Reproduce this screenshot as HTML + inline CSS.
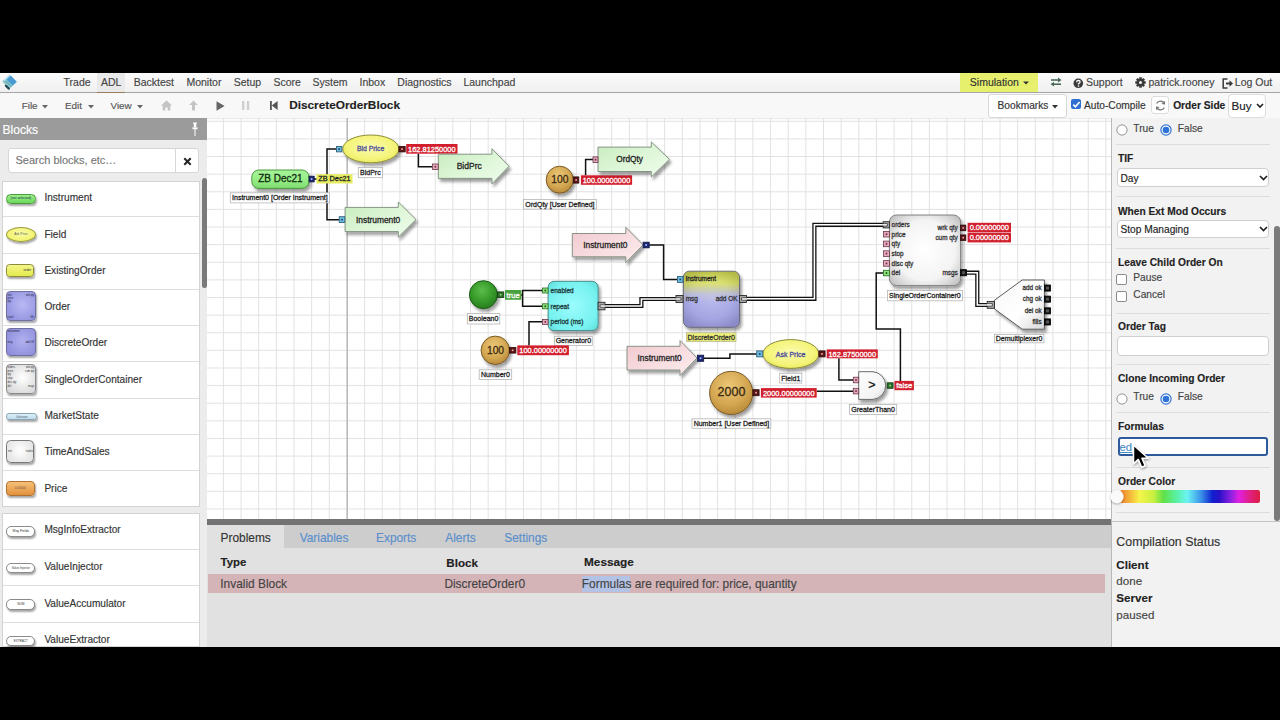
<!DOCTYPE html>
<html><head><meta charset="utf-8"><title>ADL</title><style>
html,body{margin:0;padding:0;}
body{width:1280px;height:720px;overflow:hidden;background:#000;position:relative;font-family:"Liberation Sans",sans-serif;}
.t{position:absolute;line-height:1;white-space:nowrap;-webkit-text-stroke:0.15px currentColor;}
.r{position:absolute;}
.ic{box-sizing:border-box;overflow:hidden;white-space:nowrap;}
</style></head><body>
<div class="r" style="left:0.00px;top:73.00px;width:1280.00px;height:19.20px;background:linear-gradient(#fbfbfb,#f6f6f6 40%,#f0f0f0);"></div>
<div class="r" style="left:0.00px;top:92.00px;width:1280.00px;height:1.30px;background:#a6a6a6;"></div>
<div class="r" style="left:97.00px;top:73.00px;width:27.70px;height:19.00px;background:#e9e9e9;"></div>
<div class="r" style="left:97.00px;top:91.50px;width:27.70px;height:1.50px;background:#9a7a58;"></div>
<div class="r" style="left:960.40px;top:73.00px;width:77.30px;height:19.00px;background:#e6f06c;"></div>
<div class="r" style="left:0.00px;top:93.00px;width:1280.00px;height:25.00px;background:#f8f8f8;"></div>
<svg class="r" style="left:0;top:73px" width="20" height="19" viewBox="0 73 20 19">
<g transform="translate(9.5,74.4) rotate(45)">
<rect x="0" y="0" width="10.3" height="9.4" fill="#acdde6"/>
<rect x="1.6" y="0" width="8.7" height="5.9" fill="#4a9bd2"/>
<rect x="1.6" y="6.4" width="8.7" height="2.0" fill="#6db2b5"/>
<rect x="0" y="8.4" width="4.6" height="1.8" fill="#86c4c4"/>
<rect x="4.4" y="9.3" width="6.2" height="2.3" rx="1" fill="#1f4d55"/>
</g></svg>
<div class="t" style="left:63.60px;top:77.01px;font-size:10.5px;color:#444;">Trade</div>
<div class="t" style="left:101.00px;top:77.01px;font-size:10.5px;color:#444;">ADL</div>
<div class="t" style="left:133.70px;top:77.01px;font-size:10.5px;color:#444;">Backtest</div>
<div class="t" style="left:186.40px;top:77.01px;font-size:10.5px;color:#444;">Monitor</div>
<div class="t" style="left:233.70px;top:77.01px;font-size:10.5px;color:#444;">Setup</div>
<div class="t" style="left:273.50px;top:77.01px;font-size:10.5px;color:#444;">Score</div>
<div class="t" style="left:312.60px;top:77.01px;font-size:10.5px;color:#444;">System</div>
<div class="t" style="left:359.50px;top:77.01px;font-size:10.5px;color:#444;">Inbox</div>
<div class="t" style="left:397.30px;top:77.01px;font-size:10.5px;color:#444;">Diagnostics</div>
<div class="t" style="left:463.40px;top:77.01px;font-size:10.5px;color:#444;">Launchpad</div>
<div class="t" style="left:969.80px;top:77.01px;font-size:10.5px;color:#333;">Simulation</div>
<svg class="r" style="left:1022px;top:80px" width="8" height="6"><polygon points="1,1.5 7,1.5 4,4.5" fill="#333"/></svg>
<svg class="r" style="left:1049px;top:76px" width="14" height="12" viewBox="0 0 14 12">
<path d="M2 4 H10" stroke="#4a6a58" stroke-width="1.6"/><polygon points="9,1.6 12.5,4 9,6.4" fill="#4a6a58"/>
<path d="M4 8.2 H12" stroke="#4a6a58" stroke-width="1.6"/><polygon points="5,5.8 1.5,8.2 5,10.6" fill="#4a6a58"/>
</svg>
<svg class="r" style="left:1073px;top:77.5px" width="11" height="11" viewBox="0 0 11 11">
<circle cx="5.3" cy="5.3" r="4.8" fill="#3a3a3a"/>
<path d="M3.6 4.2 Q3.7 2.4 5.4 2.4 Q7.1 2.5 7.1 3.9 Q7.0 5 5.5 5.6 L5.5 6.6" stroke="#fff" stroke-width="1.3" fill="none"/>
<rect x="4.8" y="7.4" width="1.4" height="1.3" fill="#fff"/></svg>
<div class="t" style="left:1086.00px;top:77.01px;font-size:10.5px;color:#444;">Support</div>
<svg class="r" style="left:1135px;top:77px" width="11" height="11" viewBox="-5.5 -5.5 11 11">
<g fill="#3a3a3a"><rect x="-1.3" y="-5.2" width="2.6" height="3" transform="rotate(0)"/><rect x="-1.3" y="-5.2" width="2.6" height="3" transform="rotate(45)"/><rect x="-1.3" y="-5.2" width="2.6" height="3" transform="rotate(90)"/><rect x="-1.3" y="-5.2" width="2.6" height="3" transform="rotate(135)"/><rect x="-1.3" y="-5.2" width="2.6" height="3" transform="rotate(180)"/><rect x="-1.3" y="-5.2" width="2.6" height="3" transform="rotate(225)"/><rect x="-1.3" y="-5.2" width="2.6" height="3" transform="rotate(270)"/><rect x="-1.3" y="-5.2" width="2.6" height="3" transform="rotate(315)"/><circle r="3.6"/></g><circle r="1.5" fill="#f4f4f4"/></svg>
<div class="t" style="left:1148.50px;top:77.01px;font-size:10.5px;color:#444;">patrick.rooney</div>
<svg class="r" style="left:1221.5px;top:77.5px" width="12" height="11" viewBox="0 0 12 11">
<path d="M5.5 1 H1.2 V10 H5.5" stroke="#3a3a3a" stroke-width="1.5" fill="none"/>
<path d="M4 5.5 H8" stroke="#3a3a3a" stroke-width="2"/><polygon points="7.5,2.3 11,5.5 7.5,8.7" fill="#3a3a3a"/></svg>
<div class="t" style="left:1234.80px;top:77.01px;font-size:10.5px;color:#444;">Log Out</div>
<div class="t" style="left:21.70px;top:100.72px;font-size:9.9px;color:#555;">File</div>
<div class="t" style="left:65.00px;top:100.72px;font-size:9.9px;color:#555;">Edit</div>
<div class="t" style="left:110.50px;top:100.72px;font-size:9.9px;color:#555;">View</div>
<svg class="r" style="left:42px;top:104.5px" width="7" height="4"><polygon points="0,0 6,0 3,3.4" fill="#666"/></svg>
<svg class="r" style="left:87.8px;top:104.5px" width="7" height="4"><polygon points="0,0 6,0 3,3.4" fill="#666"/></svg>
<svg class="r" style="left:136.7px;top:104.5px" width="7" height="4"><polygon points="0,0 6,0 3,3.4" fill="#666"/></svg>
<svg class="r" style="left:160.5px;top:100px" width="11" height="11" viewBox="0 0 11 11">
<polygon points="5.5,0.5 11,5.6 9.3,5.6 9.3,10.5 6.7,10.5 6.7,7.5 4.3,7.5 4.3,10.5 1.7,10.5 1.7,5.6 0,5.6" fill="#c4c4c4"/></svg>
<svg class="r" style="left:188.5px;top:100px" width="9" height="11" viewBox="0 0 9 11">
<polygon points="4.5,0.5 8.8,5 6,5 6,10.5 3,10.5 3,5 0.2,5" fill="#c4c4c4"/></svg>
<svg class="r" style="left:215.5px;top:100.5px" width="9" height="10" viewBox="0 0 9 10">
<polygon points="0.5,0.3 8.6,5 0.5,9.7" fill="#666"/></svg>
<svg class="r" style="left:242px;top:101px" width="8" height="9" viewBox="0 0 8 9">
<rect x="0" y="0" width="2.4" height="9" fill="#cfcfcf"/><rect x="4.8" y="0" width="2.4" height="9" fill="#cfcfcf"/></svg>
<svg class="r" style="left:269.5px;top:101px" width="8" height="9" viewBox="0 0 8 9">
<rect x="0" y="0" width="1.8" height="9" fill="#555"/><polygon points="7.6,0 1.8,4.5 7.6,9" fill="#555"/></svg>
<div class="t" style="left:289.20px;top:100.01px;font-size:11.8px;color:#222;font-weight:700;">DiscreteOrderBlock</div>
<div class="r" style="left:988.00px;top:93.70px;width:79.30px;height:24.00px;background:#fff;border:1px solid #d8d8d8;border-radius:3px;box-sizing:border-box;"></div>
<div class="t" style="left:997.50px;top:100.67px;font-size:10.2px;color:#333;">Bookmarks</div>
<svg class="r" style="left:1051.5px;top:104.5px" width="7" height="4"><polygon points="0,0 6,0 3,3.4" fill="#333"/></svg>
<div class="r" style="left:1070.50px;top:98.80px;width:10.30px;height:10.30px;background:#2f6fd1;border-radius:2px;"></div>
<svg class="r" style="left:1070.5px;top:98.8px" width="11" height="11" viewBox="0 0 11 11"><path d="M2.3 5.6 L4.4 7.8 L8.6 3" stroke="#fff" stroke-width="1.6" fill="none"/></svg>
<div class="t" style="left:1084.00px;top:100.87px;font-size:10.2px;color:#333;">Auto-Compile</div>
<div class="r" style="left:1150.50px;top:95.80px;width:18.50px;height:18.50px;background:#fff;border:1px solid #ddd;border-radius:3px;box-sizing:border-box;"></div>
<svg class="r" style="left:1153.5px;top:98.8px" width="13" height="13" viewBox="0 0 13 13">
<path d="M10.5 5 A4.3 4.3 0 0 0 2.6 4.4" stroke="#777" stroke-width="1.2" fill="none"/><polygon points="10.9,1.8 11,5.6 7.4,5" fill="#777"/>
<path d="M2.5 8 A4.3 4.3 0 0 0 10.4 8.6" stroke="#777" stroke-width="1.2" fill="none"/><polygon points="2.1,11.2 2,7.4 5.6,8" fill="#777"/></svg>
<div class="t" style="left:1173.20px;top:100.87px;font-size:10.2px;color:#222;font-weight:700;">Order Side</div>
<div class="r" style="left:1227.80px;top:94.00px;width:38.70px;height:24.20px;background:#fff;border:1px solid #ddd;border-radius:4px;box-sizing:border-box;"></div>
<div class="t" style="left:1231.50px;top:100.38px;font-size:11.6px;color:#222;">Buy</div>
<svg class="r" style="left:1256px;top:103px" width="8" height="6"><path d="M1 1 L4 4 L7 1" stroke="#222" stroke-width="1.6" fill="none"/></svg>
<div class="r" style="left:0.00px;top:118.00px;width:207.00px;height:529.00px;background:#ececec;"></div>
<div class="r" style="left:0.00px;top:118.00px;width:207.00px;height:22.00px;background:#9b9b9b;"></div>
<div class="t" style="left:2.50px;top:124.16px;font-size:12.1px;color:#fff;">Blocks</div>
<svg class="r" style="left:191px;top:121.5px" width="8" height="15" viewBox="0 0 8 15">
<rect x="2.2" y="0.5" width="3.6" height="1.4" fill="#fff"/><rect x="2.8" y="1.5" width="2.4" height="4" fill="#fff"/>
<polygon points="1,5.5 7,5.5 6.2,7.2 1.8,7.2" fill="#fff"/><rect x="3.5" y="7" width="1" height="7" fill="#fff"/></svg>
<div class="r" style="left:8.25px;top:148.30px;width:191.00px;height:25.00px;background:#fff;border:1px solid #d6d6d6;border-radius:3px;box-sizing:border-box;"></div>
<div class="r" style="left:174.50px;top:148.30px;width:1.00px;height:25.00px;background:#d6d6d6;"></div>
<div class="t" style="left:15.50px;top:154.99px;font-size:11px;color:#777;">Search blocks, etc…</div>
<svg class="r" style="left:182.8px;top:157px" width="9" height="9" viewBox="0 0 9 9">
<path d="M1.3 1.3 L7.7 7.7 M7.7 1.3 L1.3 7.7" stroke="#222" stroke-width="2"/></svg>
<div class="r" style="left:1.50px;top:180.60px;width:198.20px;height:326.70px;background:#fff;border:1px solid #d4d4d4;box-sizing:border-box;"></div>
<div class="r" style="left:2.50px;top:216.20px;width:196.20px;height:1.00px;background:#dedede;"></div>
<div class="r" style="left:2.50px;top:252.60px;width:196.20px;height:1.00px;background:#dedede;"></div>
<div class="r" style="left:2.50px;top:288.80px;width:196.20px;height:1.00px;background:#dedede;"></div>
<div class="r" style="left:2.50px;top:325.00px;width:196.20px;height:1.00px;background:#dedede;"></div>
<div class="r" style="left:2.50px;top:361.30px;width:196.20px;height:1.00px;background:#dedede;"></div>
<div class="r" style="left:2.50px;top:397.80px;width:196.20px;height:1.00px;background:#dedede;"></div>
<div class="r" style="left:2.50px;top:433.90px;width:196.20px;height:1.00px;background:#dedede;"></div>
<div class="r" style="left:2.50px;top:470.40px;width:196.20px;height:1.00px;background:#dedede;"></div>
<div class="t" style="left:44.40px;top:193.45px;font-size:10.1px;color:#333;">Instrument</div>
<div class="t" style="left:44.40px;top:229.55px;font-size:10.1px;color:#333;">Field</div>
<div class="t" style="left:44.40px;top:265.95px;font-size:10.1px;color:#333;">ExistingOrder</div>
<div class="t" style="left:44.40px;top:302.15px;font-size:10.1px;color:#333;">Order</div>
<div class="t" style="left:44.40px;top:338.35px;font-size:10.1px;color:#333;">DiscreteOrder</div>
<div class="t" style="left:44.40px;top:374.65px;font-size:10.1px;color:#333;">SingleOrderContainer</div>
<div class="t" style="left:44.40px;top:411.15px;font-size:10.1px;color:#333;">MarketState</div>
<div class="t" style="left:44.40px;top:447.25px;font-size:10.1px;color:#333;">TimeAndSales</div>
<div class="t" style="left:44.40px;top:483.75px;font-size:10.1px;color:#333;">Price</div>
<div class="r" style="left:1.50px;top:512.60px;width:198.20px;height:134.40px;background:#fff;border:1px solid #d4d4d4;box-sizing:border-box;"></div>
<div class="r" style="left:2.50px;top:548.70px;width:196.20px;height:1.00px;background:#dedede;"></div>
<div class="r" style="left:2.50px;top:585.30px;width:196.20px;height:1.00px;background:#dedede;"></div>
<div class="r" style="left:2.50px;top:621.70px;width:196.20px;height:1.00px;background:#dedede;"></div>
<div class="t" style="left:44.40px;top:525.45px;font-size:10.1px;color:#333;">MsgInfoExtractor</div>
<div class="t" style="left:44.40px;top:562.05px;font-size:10.1px;color:#333;">ValueInjector</div>
<div class="t" style="left:44.40px;top:598.65px;font-size:10.1px;color:#333;">ValueAccumulator</div>
<div class="t" style="left:44.40px;top:635.05px;font-size:10.1px;color:#333;">ValueExtractor</div>
<div class="r" style="left:201.50px;top:178.30px;width:5.00px;height:110.00px;background:#7a7a7a;border-radius:3px;"></div>
<div class="r ic" style="left:6.2px;top:194px;width:29.4px;height:9.5px;background:linear-gradient(#9cf08c,#6cd85c);border:1px solid #4a9a3c;border-radius:4.5px;box-shadow:1px 2px 2px rgba(0,0,0,0.35);font-size:3.4px;color:#234;text-align:center;line-height:7.5px;">(not selected)</div>
<div class="r ic" style="left:6.2px;top:227px;width:29.4px;height:15px;background:radial-gradient(ellipse at 50% 40%,#fbfba8,#eeee58);border:1px solid #9a9a3a;border-radius:15px / 7.5px;box-shadow:1px 2px 2px rgba(0,0,0,0.35);font-size:3.2px;color:#555;text-align:center;line-height:13px;">Ask Price</div>
<div class="r ic" style="left:6.2px;top:263.5px;width:28.2px;height:13.5px;background:linear-gradient(#f4f68a,#e4ea4c);border:1px solid #8c8c3a;border-radius:3.5px;box-shadow:1px 2px 2px rgba(0,0,0,0.35);font-size:3.4px;color:#333;text-align:right;line-height:11.5px;;padding-right:2px;box-sizing:border-box;line-height:11px">order</div>
<div class="r ic" style="left:6.2px;top:291.2px;width:29.6px;height:29.6px;background:radial-gradient(circle at 55% 45%,#b8b8f4,#8c8cdc);border:1px solid #7070a0;border-radius:4px;box-shadow:1px 2px 2px rgba(0,0,0,0.35);font-size:3px;color:#333;text-align:center;line-height:27.6px;"></div>
<div class="r ic" style="left:6.2px;top:327.5px;width:29.6px;height:28.7px;background:radial-gradient(circle at 55% 45%,#b0b0f0,#8888d8);border:1px solid #7070a0;border-radius:4px;box-shadow:1px 2px 2px rgba(0,0,0,0.35);font-size:3px;color:#333;text-align:center;line-height:26.7px;"></div>
<div class="r ic" style="left:6.2px;top:363.5px;width:29.6px;height:30px;background:radial-gradient(circle at 55% 45%,#ffffff,#d0d0d0);border:1px solid #8a8a8a;border-radius:4px;box-shadow:1px 2px 2px rgba(0,0,0,0.35);font-size:3px;color:#333;text-align:center;line-height:28px;"></div>
<div class="r ic" style="left:6.2px;top:412.9px;width:31.3px;height:7px;background:linear-gradient(#def0f8,#bcdcec);border:1px solid #8aa6b4;border-radius:3px;box-shadow:1px 2px 2px rgba(0,0,0,0.35);font-size:2.8px;color:#567;text-align:center;line-height:5px;;line-height:6px">Unknown</div>
<div class="r ic" style="left:6.2px;top:439.6px;width:28.2px;height:23px;background:radial-gradient(circle at 50% 45%,#ffffff,#dedede);border:1px solid #7a7a7a;border-radius:4.5px;box-shadow:1px 2px 2px rgba(0,0,0,0.35);font-size:3px;color:#333;text-align:center;line-height:21px;"></div>
<div class="r ic" style="left:6.2px;top:481.2px;width:28.8px;height:14.6px;background:linear-gradient(#f4c078,#e2923e);border:1px solid #b07030;border-radius:4px;box-shadow:1px 2px 2px rgba(0,0,0,0.35);font-size:3.6px;color:#754;text-align:center;line-height:12.6px;">0.0000</div>
<div class="r ic" style="left:6.2px;top:526px;width:29.2px;height:10.5px;background:#fff;border:1px solid #8a8a8a;border-radius:5px;box-shadow:1px 2px 2px rgba(0,0,0,0.35);font-size:3.4px;color:#333;text-align:center;line-height:8.5px;;line-height:9px">Msg Fields</div>
<div class="r ic" style="left:6.2px;top:562.5px;width:29.2px;height:10.5px;background:#fff;border:1px solid #8a8a8a;border-radius:5px;box-shadow:1px 2px 2px rgba(0,0,0,0.35);font-size:3.0px;color:#333;text-align:center;line-height:8.5px;;line-height:9px">Value Injector</div>
<div class="r ic" style="left:6.2px;top:599px;width:29.2px;height:10.5px;background:#fff;border:1px solid #8a8a8a;border-radius:5px;box-shadow:1px 2px 2px rgba(0,0,0,0.35);font-size:3.2px;color:#333;text-align:center;line-height:8.5px;;line-height:9px">SUM</div>
<div class="r ic" style="left:6.2px;top:635.5px;width:29.2px;height:10.5px;background:#fff;border:1px solid #8a8a8a;border-radius:5px;box-shadow:1px 2px 2px rgba(0,0,0,0.35);font-size:3.0px;color:#333;text-align:center;line-height:8.5px;;line-height:9px">EXTRACT</div>
<svg class="r" style="left:0;top:0" width="40" height="647" viewBox="0 0 40 647" font-family="Liberation Sans, sans-serif"><text x="7.6" y="295.6" font-size="2.6" fill="#223" text-anchor="start">inst</text><text x="7.6" y="298.8" font-size="2.6" fill="#223" text-anchor="start">price</text><text x="7.6" y="302" font-size="2.6" fill="#223" text-anchor="start">qty</text><text x="34.2" y="295.6" font-size="2.6" fill="#223" text-anchor="end">wrk qty</text><text x="7.6" y="318.3" font-size="2.6" fill="#223" text-anchor="start">cancl</text><text x="34.2" y="318.3" font-size="2.6" fill="#223" text-anchor="end">fills</text><text x="7.6" y="331.8" font-size="2.6" fill="#223" text-anchor="start">instrument</text><text x="7.6" y="342.8" font-size="2.6" fill="#223" text-anchor="start">msg</text><text x="34.2" y="342.8" font-size="2.6" fill="#223" text-anchor="end">add OK</text><text x="7.6" y="367.6" font-size="2.6" fill="#333" text-anchor="start">orders</text><text x="7.6" y="371.5" font-size="2.6" fill="#333" text-anchor="start">price</text><text x="7.6" y="375.40000000000003" font-size="2.6" fill="#333" text-anchor="start">qty</text><text x="7.6" y="379.3" font-size="2.6" fill="#333" text-anchor="start">stop</text><text x="7.6" y="383.20000000000005" font-size="2.6" fill="#333" text-anchor="start">disc qty</text><text x="7.6" y="387.1" font-size="2.6" fill="#333" text-anchor="start">del</text><text x="34.2" y="367.6" font-size="2.6" fill="#333" text-anchor="end">wrk qty</text><text x="34.2" y="371.5" font-size="2.6" fill="#333" text-anchor="end">cum qty</text><text x="34.2" y="387.2" font-size="2.6" fill="#333" text-anchor="end">msgs</text><text x="8" y="452" font-size="2.6" fill="#333" text-anchor="start">inst</text><text x="33" y="452" font-size="2.6" fill="#333" text-anchor="end">trades</text></svg>
<svg class="r" style="left:207px;top:118px" width="904" height="401" viewBox="207 118 904 401" font-family="Liberation Sans, sans-serif">
<defs>
<filter id="sh" x="-20%" y="-20%" width="150%" height="160%"><feDropShadow dx="2" dy="3" stdDeviation="1.8" flood-color="#000" flood-opacity="0.38"/></filter>
<filter id="sh2" x="-20%" y="-20%" width="150%" height="160%"><feDropShadow dx="1" dy="1.5" stdDeviation="1" flood-color="#000" flood-opacity="0.3"/></filter>
<linearGradient id="gArrG" x1="0" y1="0" x2="1" y2="1"><stop offset="0" stop-color="#c6ecbd"/><stop offset="0.6" stop-color="#e2f8dc"/><stop offset="1" stop-color="#eefcec"/></linearGradient>
<linearGradient id="gArrP" x1="0" y1="0" x2="1" y2="1"><stop offset="0" stop-color="#f0c8ce"/><stop offset="0.6" stop-color="#f8dfe2"/><stop offset="1" stop-color="#fcecee"/></linearGradient>
<linearGradient id="gInst" x1="0" y1="0" x2="0" y2="1"><stop offset="0" stop-color="#a6f49a"/><stop offset="0.5" stop-color="#98ee88"/><stop offset="1" stop-color="#7edc6e"/></linearGradient>
<radialGradient id="gFld" cx="0.5" cy="0.45" r="0.6"><stop offset="0" stop-color="#fbfbb0"/><stop offset="0.7" stop-color="#f4f47a"/><stop offset="1" stop-color="#e6e654"/></radialGradient>
<radialGradient id="gNum" cx="0.45" cy="0.35" r="0.7"><stop offset="0" stop-color="#ecc878"/><stop offset="0.6" stop-color="#d4a752"/><stop offset="1" stop-color="#b48636"/></radialGradient>
<radialGradient id="gBool" cx="0.45" cy="0.35" r="0.7"><stop offset="0" stop-color="#5cbc4c"/><stop offset="0.5" stop-color="#3a9e2c"/><stop offset="1" stop-color="#22781a"/></radialGradient>
<radialGradient id="gGen" cx="0.5" cy="0.5" r="0.7"><stop offset="0" stop-color="#9afcfc"/><stop offset="0.7" stop-color="#76f2f0"/><stop offset="1" stop-color="#5edcd8"/></radialGradient>
<linearGradient id="gDO" x1="0" y1="0" x2="0" y2="1"><stop offset="0" stop-color="#c4cc48"/><stop offset="0.22" stop-color="#d6dc66"/><stop offset="0.42" stop-color="#b4b6d8"/><stop offset="0.55" stop-color="#a4a6e6"/><stop offset="1" stop-color="#9898dc"/></linearGradient>
<radialGradient id="gHi" cx="0.5" cy="0.5" r="0.6"><stop offset="0" stop-color="#fff" stop-opacity="0.22"/><stop offset="0.6" stop-color="#fff" stop-opacity="0.08"/><stop offset="1" stop-color="#000" stop-opacity="0.10"/></radialGradient>
<radialGradient id="gSOC" cx="0.5" cy="0.5" r="0.65"><stop offset="0" stop-color="#ffffff"/><stop offset="0.65" stop-color="#f4f4f4"/><stop offset="1" stop-color="#c4c4c4"/></radialGradient>
<linearGradient id="gDmx" x1="0" y1="0" x2="1" y2="1"><stop offset="0" stop-color="#f6f6f6"/><stop offset="0.6" stop-color="#ffffff"/><stop offset="1" stop-color="#d8d8d8"/></linearGradient>
<linearGradient id="gGT" x1="0" y1="0" x2="1" y2="1"><stop offset="0" stop-color="#fdfdfd"/><stop offset="0.7" stop-color="#f4f4f4"/><stop offset="1" stop-color="#d4d4d4"/></linearGradient>
</defs>
<rect x="207" y="118" width="904" height="401" fill="#fff"/>
<rect x="207" y="118" width="904" height="1.2" fill="#ececec"/>
<path d="M223.40 118V519 M241.05 118V519 M258.70 118V519 M276.35 118V519 M294.00 118V519 M311.65 118V519 M329.30 118V519 M346.95 118V519 M364.60 118V519 M382.25 118V519 M399.90 118V519 M417.55 118V519 M435.20 118V519 M452.85 118V519 M470.50 118V519 M488.15 118V519 M505.80 118V519 M523.45 118V519 M541.10 118V519 M558.75 118V519 M576.40 118V519 M594.05 118V519 M611.70 118V519 M629.35 118V519 M647.00 118V519 M664.65 118V519 M682.30 118V519 M699.95 118V519 M717.60 118V519 M735.25 118V519 M752.90 118V519 M770.55 118V519 M788.20 118V519 M805.85 118V519 M823.50 118V519 M841.15 118V519 M858.80 118V519 M876.45 118V519 M894.10 118V519 M911.75 118V519 M929.40 118V519 M947.05 118V519 M964.70 118V519 M982.35 118V519 M1000.00 118V519 M1017.65 118V519 M1035.30 118V519 M1052.95 118V519 M1070.60 118V519 M1088.25 118V519 M1105.90 118V519 M207 121.30H1111 M207 138.92H1111 M207 156.54H1111 M207 174.16H1111 M207 191.78H1111 M207 209.40H1111 M207 227.02H1111 M207 244.64H1111 M207 262.26H1111 M207 279.88H1111 M207 297.50H1111 M207 315.12H1111 M207 332.74H1111 M207 350.36H1111 M207 367.98H1111 M207 385.60H1111 M207 403.22H1111 M207 420.84H1111 M207 438.46H1111 M207 456.08H1111 M207 473.70H1111 M207 491.32H1111 M207 508.94H1111" stroke="#e2e2e2" stroke-width="1" fill="none"/>
<path d="M347.2 118V519" stroke="#a8a8a8" stroke-width="1.1"/>
<path d="M314.00 179.00 L327.00 179.00" stroke="#111" stroke-width="1.5" fill="none"/>
<path d="M336.40 148.90 L327.00 148.90 L327.00 219.80 L339.20 219.80" stroke="#111" stroke-width="1.5" fill="none"/>
<path d="M418.40 153.70 L418.40 166.70 L432.50 166.70" stroke="#111" stroke-width="1.5" fill="none"/>
<path d="M585.60 175.30 L585.60 159.60 L593.00 159.60" stroke="#111" stroke-width="1.5" fill="none"/>
<path d="M649.20 245.00 L663.60 245.00 L663.60 279.50 L677.50 279.50" stroke="#111" stroke-width="1.5" fill="none"/>
<path d="M521.00 294.90 L522.60 294.90" stroke="#111" stroke-width="1.5" fill="none"/>
<path d="M542.50 290.50 L522.60 290.50 L522.60 306.30 L542.50 306.30" stroke="#111" stroke-width="1.5" fill="none"/>
<path d="M529.00 345.40 L529.00 321.70 L542.50 321.70" stroke="#111" stroke-width="1.5" fill="none"/>
<path d="M703.70 358.20 L729.90 358.20 L729.90 354.00 L756.70 354.00" stroke="#111" stroke-width="1.5" fill="none"/>
<path d="M838.90 358.30 L838.90 379.90 L853.30 379.90" stroke="#111" stroke-width="1.5" fill="none"/>
<path d="M816.70 391.20 L853.30 391.20" stroke="#111" stroke-width="1.5" fill="none"/>
<path d="M900.40 381.00 L900.40 329.00 L876.20 329.00 L876.20 273.00 L883.20 273.00" stroke="#111" stroke-width="1.5" fill="none"/>
<path d="M605.00 306.00 L641.40 306.00 L641.40 299.00 L676.00 299.00" stroke="#111" stroke-width="4.2" fill="none"/>
<path d="M605.00 306.00 L641.40 306.00 L641.40 299.00 L676.00 299.00" stroke="#fff" stroke-width="1.6" fill="none"/>
<path d="M746.40 298.80 L814.40 298.80 L814.40 224.80 L883.20 224.80" stroke="#111" stroke-width="4.2" fill="none"/>
<path d="M746.40 298.80 L814.40 298.80 L814.40 224.80 L883.20 224.80" stroke="#fff" stroke-width="1.6" fill="none"/>
<path d="M966.50 272.70 L977.30 272.70 L977.30 305.00 L987.20 305.00" stroke="#111" stroke-width="4.2" fill="none"/>
<path d="M966.50 272.70 L977.30 272.70 L977.30 305.00 L987.20 305.00" stroke="#fff" stroke-width="1.6" fill="none"/>
<rect x="251.8" y="170" width="57.2" height="18.4" rx="7" fill="url(#gInst)" stroke="#4a9a3e" stroke-width="1" filter="url(#sh)"/>
<text x="280.40" y="181.90" font-size="10" fill="#112a11" stroke="#112a11" stroke-width="0.28" text-anchor="middle">ZB Dec21</text>
<rect x="309.00" y="176.20" width="5.20" height="5.70" fill="#1c2a78" stroke="#0c1440" stroke-width="0.8"/>
<rect x="310.80" y="178.25" width="1.6" height="1.6" fill="#c8d0ff"/>
<rect x="316.40" y="174.20" width="36.10" height="9.30" fill="#e6ec60"/>
<text x="334.45" y="181.48" font-size="7.3" fill="#222" stroke="#222" stroke-width="0.28" text-anchor="middle">ZB Dec21</text>
<rect x="230.30" y="192.80" width="99.20" height="10.10" fill="#fff" stroke="#b4b4b4" stroke-width="0.8"/>
<text x="279.90" y="200.37" font-size="7" fill="#222" stroke="#222" stroke-width="0.28" text-anchor="middle">Instrument0 [Order Instrument]</text>
<ellipse cx="370.8" cy="148.9" rx="28.1" ry="13.9" fill="url(#gFld)" stroke="#8c8c3c" stroke-width="1" filter="url(#sh)"/>
<text x="370.60" y="151.30" font-size="6.8" fill="#4a4a9a" stroke="#4a4a9a" stroke-width="0.28" text-anchor="middle">Bid Price</text>
<rect x="336.40" y="146.40" width="5.50" height="5.50" fill="#6cbbe0" stroke="#2a5670" stroke-width="0.8"/>
<rect x="338.35" y="148.35" width="1.6" height="1.6" fill="#1a3a5a"/>
<rect x="398.90" y="146.40" width="6.30" height="5.50" fill="#5c1818" stroke="#2a0808" stroke-width="0.8"/>
<rect x="401.25" y="148.35" width="1.6" height="1.6" fill="#f0b0b0"/>
<rect x="406.20" y="144.00" width="51.30" height="9.70" fill="#d21f2e"/>
<text x="431.85" y="151.53" font-size="7.45" fill="#fff" stroke="#fff" stroke-width="0.28" text-anchor="middle">162.81250000</text>
<rect x="358.30" y="167.50" width="24.20" height="10.20" fill="#fff" stroke="#b4b4b4" stroke-width="0.8"/>
<text x="370.40" y="175.12" font-size="7" fill="#222" stroke="#222" stroke-width="0.28" text-anchor="middle">BidPrc</text>
<polygon points="438.3,154.2 491.9,154.2 491.9,148.7 509,166.3 491.9,183.9 491.9,178.4 438.3,178.4" fill="url(#gArrG)" stroke="#7a8a7a" stroke-width="0.9" filter="url(#sh)"/>
<text x="456.70" y="169.36" font-size="8.5" fill="#222" stroke="#222" stroke-width="0.28" text-anchor="start">BidPrc</text>
<rect x="432.50" y="164.00" width="5.80" height="5.50" fill="#e4a8bc" stroke="#6a3848" stroke-width="0.8"/>
<rect x="434.60" y="165.95" width="1.6" height="1.6" fill="#6a2838"/>
<polygon points="345.1,207.4 398.3,207.4 398.3,202 416,219.6 398.3,237.2 398.3,231.6 345.1,231.6" fill="url(#gArrG)" stroke="#7a8a7a" stroke-width="0.9" filter="url(#sh)"/>
<text x="356.00" y="222.62" font-size="8.4" fill="#222" stroke="#222" stroke-width="0.28" text-anchor="start">Instrument0</text>
<rect x="339.20" y="216.70" width="5.60" height="5.90" fill="#6cbbe0" stroke="#2a5670" stroke-width="0.8"/>
<rect x="341.20" y="218.85" width="1.6" height="1.6" fill="#1a3a5a"/>
<circle cx="559.7" cy="179.7" r="13.5" fill="url(#gNum)" stroke="#7a5a26" stroke-width="1" filter="url(#sh)"/>
<text x="559.80" y="183.40" font-size="10.3" fill="#3a2a10" stroke="#3a2a10" stroke-width="0.28" text-anchor="middle">100</text>
<rect x="573.50" y="176.90" width="5.30" height="6.20" fill="#5c1818" stroke="#2a0808" stroke-width="0.8"/>
<rect x="575.35" y="179.20" width="1.6" height="1.6" fill="#f0b0b0"/>
<rect x="580.90" y="175.30" width="51.20" height="9.50" fill="#d21f2e"/>
<text x="606.50" y="182.73" font-size="7.45" fill="#fff" stroke="#fff" stroke-width="0.28" text-anchor="middle">100.00000000</text>
<polygon points="598,147.1 651.3,147.1 651.3,141.9 669.4,159.4 651.3,176.9 651.3,171.5 598,171.5" fill="url(#gArrG)" stroke="#7a8a7a" stroke-width="0.9" filter="url(#sh)"/>
<text x="616.20" y="162.39" font-size="8.3" fill="#222" stroke="#222" stroke-width="0.28" text-anchor="start">OrdQty</text>
<rect x="593.00" y="156.90" width="5.00" height="5.60" fill="#e4a8bc" stroke="#6a3848" stroke-width="0.8"/>
<rect x="594.70" y="158.90" width="1.6" height="1.6" fill="#6a2838"/>
<rect x="523.50" y="199.40" width="72.80" height="9.70" fill="#fff" stroke="#b4b4b4" stroke-width="0.8"/>
<text x="559.90" y="206.77" font-size="7" fill="#222" stroke="#222" stroke-width="0.28" text-anchor="middle">OrdQty [User Defined]</text>
<polygon points="572.3,233.5 625.8,233.5 625.8,227.3 643.1,244.9 625.8,262.5 625.8,256.8 572.3,256.8" fill="url(#gArrP)" stroke="#7a8a7a" stroke-width="0.9" filter="url(#sh)"/>
<text x="583.20" y="247.92" font-size="8.4" fill="#222" stroke="#222" stroke-width="0.28" text-anchor="start">Instrument0</text>
<rect x="643.10" y="242.20" width="6.10" height="5.60" fill="#1c2a78" stroke="#0c1440" stroke-width="0.8"/>
<rect x="645.35" y="244.20" width="1.6" height="1.6" fill="#c8d0ff"/>
<rect x="683.4" y="271.2" width="56.1" height="56.1" rx="6" fill="url(#gDO)" stroke="#6a6a7a" stroke-width="1" filter="url(#sh)"/>
<rect x="683.9" y="271.7" width="55.1" height="55.1" rx="5.5" fill="url(#gHi)"/>
<text x="685.70" y="281.30" font-size="6.5" fill="#222" stroke="#222" stroke-width="0.28" text-anchor="start">instrument</text>
<text x="685.70" y="301.30" font-size="6.5" fill="#333" stroke="#333" stroke-width="0.28" text-anchor="start">msg</text>
<text x="737.70" y="301.30" font-size="6.5" fill="#333" stroke="#333" stroke-width="0.28" text-anchor="end">add OK</text>
<rect x="677.50" y="276.40" width="5.50" height="6.10" fill="#6cbbe0" stroke="#2a5670" stroke-width="0.8"/>
<rect x="679.45" y="278.65" width="1.6" height="1.6" fill="#1a3a5a"/>
<rect x="676.00" y="295.50" width="7.00" height="7.00" fill="#a8a8a8" stroke="#2a2a2a" stroke-width="0.9"/>
<path d="M675.50 297.80 H681.00 V300.20 H675.50" fill="#fff" stroke="#222" stroke-width="0.7"/>
<rect x="739.50" y="295.50" width="6.90" height="7.00" fill="#a8a8a8" stroke="#2a2a2a" stroke-width="0.9"/>
<path d="M746.90 297.80 H741.50 V300.20 H746.90" fill="#fff" stroke="#222" stroke-width="0.7"/>
<rect x="686.5" y="332.8" width="49.5" height="8.7" fill="#eef078" stroke="#b8b890" stroke-width="0.8"/>
<text x="711.25" y="339.70" font-size="7" fill="#333" stroke="#333" stroke-width="0.28" text-anchor="middle">DiscreteOrder0</text>
<circle cx="483.4" cy="294.7" r="14" fill="url(#gBool)" stroke="#1c5a16" stroke-width="1" filter="url(#sh)"/>
<rect x="497.50" y="291.90" width="6.30" height="5.60" fill="#2c7028" stroke="#123a10" stroke-width="0.8"/>
<rect x="499.85" y="293.90" width="1.6" height="1.6" fill="#a0e090"/>
<rect x="505.00" y="290.00" width="16.30" height="9.80" fill="#4aa23e"/>
<text x="513.15" y="297.64" font-size="7.6" fill="#fff" stroke="#fff" stroke-width="0.28" text-anchor="middle">true</text>
<rect x="467.30" y="313.50" width="32.50" height="10.50" fill="#fff" stroke="#b4b4b4" stroke-width="0.8"/>
<text x="483.55" y="321.27" font-size="7" fill="#222" stroke="#222" stroke-width="0.28" text-anchor="middle">Boolean0</text>
<rect x="548.1" y="281.3" width="50" height="49.3" rx="6" fill="url(#gGen)" stroke="#4a8a8a" stroke-width="1" filter="url(#sh)"/>
<text x="550.60" y="292.90" font-size="6.5" fill="#1a3a3a" stroke="#1a3a3a" stroke-width="0.28" text-anchor="start">enabled</text>
<text x="550.60" y="308.50" font-size="6.5" fill="#1a3a3a" stroke="#1a3a3a" stroke-width="0.28" text-anchor="start">repeat</text>
<text x="550.60" y="323.50" font-size="6.5" fill="#1a3a3a" stroke="#1a3a3a" stroke-width="0.28" text-anchor="start">period (ms)</text>
<rect x="542.50" y="288.00" width="5.60" height="5.00" fill="#8ee47c" stroke="#2a6a22" stroke-width="0.8"/>
<rect x="544.50" y="289.70" width="1.6" height="1.6" fill="#1a4a14"/>
<rect x="542.50" y="303.80" width="5.60" height="5.00" fill="#8ee47c" stroke="#2a6a22" stroke-width="0.8"/>
<rect x="544.50" y="305.50" width="1.6" height="1.6" fill="#1a4a14"/>
<rect x="542.50" y="319.40" width="5.60" height="5.00" fill="#e4a8bc" stroke="#6a3848" stroke-width="0.8"/>
<rect x="544.50" y="321.10" width="1.6" height="1.6" fill="#6a2838"/>
<rect x="598.10" y="302.30" width="6.90" height="7.50" fill="#a8a8a8" stroke="#2a2a2a" stroke-width="0.9"/>
<path d="M605.50 304.85 H600.10 V307.25 H605.50" fill="#fff" stroke="#222" stroke-width="0.7"/>
<rect x="554.40" y="336.30" width="37.90" height="9.30" fill="#fff" stroke="#b4b4b4" stroke-width="0.8"/>
<text x="573.35" y="343.47" font-size="7" fill="#222" stroke="#222" stroke-width="0.28" text-anchor="middle">Generator0</text>
<circle cx="495.3" cy="350.3" r="14.2" fill="url(#gNum)" stroke="#7a5a26" stroke-width="1" filter="url(#sh)"/>
<text x="495.50" y="353.90" font-size="10.3" fill="#3a2a10" stroke="#3a2a10" stroke-width="0.28" text-anchor="middle">100</text>
<rect x="509.40" y="347.50" width="6.50" height="5.60" fill="#5c1818" stroke="#2a0808" stroke-width="0.8"/>
<rect x="511.85" y="349.50" width="1.6" height="1.6" fill="#f0b0b0"/>
<rect x="517.30" y="345.40" width="51.60" height="9.80" fill="#d21f2e"/>
<text x="543.10" y="352.98" font-size="7.45" fill="#fff" stroke="#fff" stroke-width="0.28" text-anchor="middle">100.00000000</text>
<rect x="479.20" y="369.80" width="32.50" height="9.60" fill="#fff" stroke="#b4b4b4" stroke-width="0.8"/>
<text x="495.45" y="377.12" font-size="7" fill="#222" stroke="#222" stroke-width="0.28" text-anchor="middle">Number0</text>
<rect x="889.4" y="215" width="71.2" height="70.6" rx="7" fill="url(#gSOC)" stroke="#808080" stroke-width="1" filter="url(#sh)"/>
<text x="891.60" y="227.40" font-size="6.4" fill="#333" stroke="#333" stroke-width="0.28" text-anchor="start">orders</text>
<text x="891.60" y="236.50" font-size="6.4" fill="#333" stroke="#333" stroke-width="0.28" text-anchor="start">price</text>
<text x="891.60" y="246.20" font-size="6.4" fill="#333" stroke="#333" stroke-width="0.28" text-anchor="start">qty</text>
<text x="891.60" y="255.90" font-size="6.4" fill="#333" stroke="#333" stroke-width="0.28" text-anchor="start">stop</text>
<text x="891.60" y="265.60" font-size="6.4" fill="#333" stroke="#333" stroke-width="0.28" text-anchor="start">disc qty</text>
<text x="891.60" y="275.30" font-size="6.4" fill="#333" stroke="#333" stroke-width="0.28" text-anchor="start">del</text>
<text x="957.80" y="229.80" font-size="6.4" fill="#333" stroke="#333" stroke-width="0.28" text-anchor="end">wrk qty</text>
<text x="957.80" y="239.50" font-size="6.4" fill="#333" stroke="#333" stroke-width="0.28" text-anchor="end">cum qty</text>
<text x="957.80" y="275.10" font-size="6.4" fill="#333" stroke="#333" stroke-width="0.28" text-anchor="end">msgs</text>
<rect x="883.20" y="221.70" width="6.20" height="6.20" fill="#a8a8a8" stroke="#2a2a2a" stroke-width="0.9"/>
<path d="M882.70 223.60 H887.40 V226.00 H882.70" fill="#fff" stroke="#222" stroke-width="0.7"/>
<rect x="883.60" y="231.40" width="5.80" height="5.60" fill="#e4a8bc" stroke="#6a3848" stroke-width="0.8"/>
<rect x="885.70" y="233.40" width="1.6" height="1.6" fill="#6a2838"/>
<rect x="883.60" y="241.10" width="5.80" height="5.60" fill="#e4a8bc" stroke="#6a3848" stroke-width="0.8"/>
<rect x="885.70" y="243.10" width="1.6" height="1.6" fill="#6a2838"/>
<rect x="883.60" y="250.80" width="5.80" height="5.60" fill="#e4a8bc" stroke="#6a3848" stroke-width="0.8"/>
<rect x="885.70" y="252.80" width="1.6" height="1.6" fill="#6a2838"/>
<rect x="883.60" y="260.60" width="5.80" height="5.60" fill="#e4a8bc" stroke="#6a3848" stroke-width="0.8"/>
<rect x="885.70" y="262.60" width="1.6" height="1.6" fill="#6a2838"/>
<rect x="883.60" y="270.30" width="5.80" height="5.50" fill="#8ee47c" stroke="#2a6a22" stroke-width="0.8"/>
<rect x="885.70" y="272.25" width="1.6" height="1.6" fill="#1a4a14"/>
<rect x="960.60" y="225.10" width="5.20" height="5.60" fill="#5c1818" stroke="#2a0808" stroke-width="0.8"/>
<rect x="962.40" y="227.10" width="1.6" height="1.6" fill="#f0b0b0"/>
<rect x="960.60" y="234.90" width="5.20" height="5.50" fill="#5c1818" stroke="#2a0808" stroke-width="0.8"/>
<rect x="962.40" y="236.85" width="1.6" height="1.6" fill="#f0b0b0"/>
<rect x="960.60" y="269.60" width="5.90" height="6.20" fill="#111" stroke="#000" stroke-width="0.8"/>
<rect x="962.20" y="271.20" width="2.70" height="3.00" fill="#555"/>
<rect x="967.60" y="222.80" width="43.40" height="9.50" fill="#d21f2e"/>
<text x="989.30" y="230.23" font-size="7.45" fill="#fff" stroke="#fff" stroke-width="0.28" text-anchor="middle">0.00000000</text>
<rect x="967.60" y="232.80" width="43.40" height="9.60" fill="#d21f2e"/>
<text x="989.30" y="240.28" font-size="7.45" fill="#fff" stroke="#fff" stroke-width="0.28" text-anchor="middle">0.00000000</text>
<rect x="887.40" y="290.40" width="75.00" height="10.40" fill="#fff" stroke="#b4b4b4" stroke-width="0.8"/>
<text x="924.90" y="298.12" font-size="7" fill="#222" stroke="#222" stroke-width="0.28" text-anchor="middle">SingleOrderContainer0</text>
<polygon points="994.4,300.3 1022.2,280 1044.4,280 1044.4,329.2 1022.2,329.2 994.4,308.8" fill="url(#gDmx)" stroke="#5a5a5a" stroke-width="1" filter="url(#sh)"/>
<text x="1041.70" y="290.10" font-size="6.4" fill="#333" stroke="#333" stroke-width="0.28" text-anchor="end">add ok</text>
<text x="1041.70" y="301.20" font-size="6.4" fill="#333" stroke="#333" stroke-width="0.28" text-anchor="end">chg ok</text>
<text x="1041.70" y="312.60" font-size="6.4" fill="#333" stroke="#333" stroke-width="0.28" text-anchor="end">del ok</text>
<text x="1041.70" y="324.00" font-size="6.4" fill="#333" stroke="#333" stroke-width="0.28" text-anchor="end">fills</text>
<rect x="987.20" y="301.40" width="7.20" height="6.90" fill="#a8a8a8" stroke="#2a2a2a" stroke-width="0.9"/>
<path d="M986.70 303.65 H992.40 V306.05 H986.70" fill="#fff" stroke="#222" stroke-width="0.7"/>
<rect x="1044.40" y="285.00" width="6.20" height="6.10" fill="#111" stroke="#000" stroke-width="0.8"/>
<rect x="1046.00" y="286.60" width="3.00" height="2.90" fill="#555"/>
<rect x="1044.40" y="296.10" width="6.20" height="6.10" fill="#111" stroke="#000" stroke-width="0.8"/>
<rect x="1046.00" y="297.70" width="3.00" height="2.90" fill="#555"/>
<rect x="1044.40" y="307.80" width="6.20" height="6.10" fill="#111" stroke="#000" stroke-width="0.8"/>
<rect x="1046.00" y="309.40" width="3.00" height="2.90" fill="#555"/>
<rect x="1044.40" y="318.90" width="6.20" height="6.10" fill="#111" stroke="#000" stroke-width="0.8"/>
<rect x="1046.00" y="320.50" width="3.00" height="2.90" fill="#555"/>
<rect x="994.40" y="334.40" width="49.50" height="8.40" fill="#fff" stroke="#b4b4b4" stroke-width="0.8"/>
<text x="1019.15" y="341.12" font-size="7" fill="#222" stroke="#222" stroke-width="0.28" text-anchor="middle">Demultiplexer0</text>
<polygon points="627,346.3 680,346.3 680,340.5 697,358.0 680,375.5 680,370 627,370" fill="url(#gArrP)" stroke="#7a8a7a" stroke-width="0.9" filter="url(#sh)"/>
<text x="637.50" y="361.02" font-size="8.4" fill="#222" stroke="#222" stroke-width="0.28" text-anchor="start">Instrument0</text>
<rect x="697.40" y="355.20" width="6.30" height="6.10" fill="#1c2a78" stroke="#0c1440" stroke-width="0.8"/>
<rect x="699.75" y="357.45" width="1.6" height="1.6" fill="#c8d0ff"/>
<ellipse cx="790.8" cy="354" rx="28" ry="14.4" fill="url(#gFld)" stroke="#8c8c3c" stroke-width="1" filter="url(#sh)"/>
<text x="790.60" y="356.50" font-size="7" fill="#4a4a9a" stroke="#4a4a9a" stroke-width="0.28" text-anchor="middle">Ask Price</text>
<rect x="756.70" y="350.90" width="6.10" height="6.00" fill="#6cbbe0" stroke="#2a5670" stroke-width="0.8"/>
<rect x="758.95" y="353.10" width="1.6" height="1.6" fill="#1a3a5a"/>
<rect x="818.90" y="350.90" width="6.20" height="6.00" fill="#5c1818" stroke="#2a0808" stroke-width="0.8"/>
<rect x="821.20" y="353.10" width="1.6" height="1.6" fill="#f0b0b0"/>
<rect x="826.70" y="349.40" width="51.10" height="8.90" fill="#d21f2e"/>
<text x="852.25" y="356.53" font-size="7.45" fill="#fff" stroke="#fff" stroke-width="0.28" text-anchor="middle">162.87500000</text>
<rect x="779.70" y="373.30" width="22.10" height="9.80" fill="#fff" stroke="#b4b4b4" stroke-width="0.8"/>
<text x="790.75" y="380.72" font-size="7" fill="#222" stroke="#222" stroke-width="0.28" text-anchor="middle">Field1</text>
<circle cx="731.2" cy="392.9" r="21.6" fill="url(#gNum)" stroke="#7a5a26" stroke-width="1" filter="url(#sh)"/>
<text x="731.50" y="396.40" font-size="12.5" fill="#3a2a10" stroke="#3a2a10" stroke-width="0.28" text-anchor="middle">2000</text>
<rect x="752.90" y="389.70" width="6.20" height="6.00" fill="#5c1818" stroke="#2a0808" stroke-width="0.8"/>
<rect x="755.20" y="391.90" width="1.6" height="1.6" fill="#f0b0b0"/>
<rect x="760.90" y="388.10" width="55.80" height="9.50" fill="#d21f2e"/>
<text x="788.80" y="395.53" font-size="7.45" fill="#fff" stroke="#fff" stroke-width="0.28" text-anchor="middle">2000.00000000</text>
<rect x="692.00" y="418.80" width="78.80" height="9.50" fill="#fff" stroke="#b4b4b4" stroke-width="0.8"/>
<text x="731.40" y="426.07" font-size="7" fill="#222" stroke="#222" stroke-width="0.28" text-anchor="middle">Number1 [User Defined]</text>
<path d="M858.7 371.7 H873 A13.9 13.9 0 0 1 873 399.4 H858.7 Z" fill="url(#gGT)" stroke="#6a6a6a" stroke-width="1" filter="url(#sh)"/>
<text x="872.00" y="388.60" font-size="12.5" fill="#111" stroke="#111" stroke-width="0.28" text-anchor="middle">&gt;</text>
<rect x="853.30" y="377.20" width="5.40" height="5.60" fill="#e4a8bc" stroke="#6a3848" stroke-width="0.8"/>
<rect x="855.20" y="379.20" width="1.6" height="1.6" fill="#6a2838"/>
<rect x="853.30" y="388.30" width="5.40" height="5.60" fill="#e4a8bc" stroke="#6a3848" stroke-width="0.8"/>
<rect x="855.20" y="390.30" width="1.6" height="1.6" fill="#6a2838"/>
<rect x="887.20" y="382.80" width="5.90" height="5.50" fill="#2c7028" stroke="#123a10" stroke-width="0.8"/>
<rect x="889.35" y="384.75" width="1.6" height="1.6" fill="#a0e090"/>
<rect x="894.40" y="380.90" width="19.50" height="9.30" fill="#d21f2e"/>
<text x="904.15" y="388.29" font-size="7.6" fill="#fff" stroke="#fff" stroke-width="0.28" text-anchor="middle">false</text>
<rect x="849.40" y="404.40" width="47.30" height="10.00" fill="#fff" stroke="#b4b4b4" stroke-width="0.8"/>
<text x="873.05" y="411.92" font-size="7" fill="#222" stroke="#222" stroke-width="0.28" text-anchor="middle">GreaterThan0</text>
</svg>
<div class="r" style="left:207.00px;top:519.00px;width:904.00px;height:128.00px;background:#e1e1e1;"></div>
<div class="r" style="left:207.00px;top:519.00px;width:904.00px;height:6.20px;background:#737373;"></div>
<div class="r" style="left:207.00px;top:525.20px;width:904.00px;height:22.60px;background:#cdcdcd;"></div>
<div class="r" style="left:207.30px;top:525.20px;width:76.60px;height:22.60px;background:#e1e1e1;"></div>
<div class="t" style="left:220.60px;top:532.73px;font-size:11.9px;color:#333;">Problems</div>
<div class="t" style="left:299.70px;top:532.73px;font-size:11.9px;color:#5a8fcc;">Variables</div>
<div class="t" style="left:376.00px;top:532.73px;font-size:11.9px;color:#5a8fcc;">Exports</div>
<div class="t" style="left:445.30px;top:532.73px;font-size:11.9px;color:#5a8fcc;">Alerts</div>
<div class="t" style="left:504.30px;top:532.73px;font-size:11.9px;color:#5a8fcc;">Settings</div>
<div class="t" style="left:220.60px;top:557.05px;font-size:11.4px;color:#222;font-weight:700;">Type</div>
<div class="t" style="left:446.30px;top:556.88px;font-size:11.6px;color:#222;font-weight:700;">Block</div>
<div class="t" style="left:584.00px;top:556.71px;font-size:11.8px;color:#222;font-weight:700;">Message</div>
<div class="r" style="left:207.50px;top:573.80px;width:897.50px;height:18.80px;background:#d5b4b8;"></div>
<div class="r" style="left:581.60px;top:575.80px;width:48.70px;height:16.20px;background:#b3c3e6;"></div>
<div class="t" style="left:220.30px;top:579.03px;font-size:11.9px;color:#444;">Invalid Block</div>
<div class="t" style="left:444.40px;top:579.03px;font-size:11.9px;color:#444;">DiscreteOrder0</div>
<div class="t" style="left:581.80px;top:579.03px;font-size:11.9px;color:#444;">Formulas are required for: price, quantity</div>
<div class="r" style="left:1111.00px;top:118.00px;width:169.00px;height:529.00px;background:#f2f2f2;"></div>
<div class="r" style="left:1111.00px;top:118.00px;width:1.00px;height:529.00px;background:#b9b9b9;"></div>
<div class="r" style="left:1112.00px;top:520.80px;width:168.00px;height:1.00px;background:#c4c4c4;"></div>
<div class="r" style="left:1274.30px;top:226.30px;width:5.40px;height:294.50px;background:#7b7b7b;border-radius:3px;"></div>
<svg class="r" style="left:1115.5px;top:124.1px" width="12" height="12"><circle cx="6" cy="6" r="5.1" fill="#fff" stroke="#8a8a8a" stroke-width="0.9"/></svg>
<div class="t" style="left:1133.30px;top:123.77px;font-size:10.2px;color:#444;">True</div>
<svg class="r" style="left:1160.4px;top:124.1px" width="12" height="12"><circle cx="6" cy="6" r="5.1" fill="#fff" stroke="#2f72d6" stroke-width="1.2"/><circle cx="6" cy="6" r="3.3" fill="#2f72d6"/></svg>
<div class="t" style="left:1177.80px;top:123.77px;font-size:10.2px;color:#444;">False</div>
<div class="r" style="left:1116.00px;top:143.80px;width:154.00px;height:1.00px;background:#dcdcdc;"></div>
<div class="t" style="left:1118.00px;top:153.57px;font-size:10.2px;color:#222;font-weight:700;">TIF</div>
<div class="r" style="left:1116.60px;top:168.20px;width:152.90px;height:19.20px;background:#fff;border:1px solid #cfcfcf;border-radius:4px;box-sizing:border-box;"></div>
<div class="t" style="left:1120.40px;top:173.57px;font-size:10.2px;color:#222;">Day</div>
<svg class="r" style="left:1258.5px;top:174.8px" width="9" height="6"><path d="M1 1 L4.5 4.5 L8 1" stroke="#222" stroke-width="1.7" fill="none"/></svg>
<div class="r" style="left:1116.00px;top:195.80px;width:154.00px;height:1.00px;background:#dcdcdc;"></div>
<div class="t" style="left:1118.00px;top:206.77px;font-size:10.2px;color:#222;font-weight:700;">When Ext Mod Occurs</div>
<div class="r" style="left:1116.60px;top:219.80px;width:152.90px;height:18.70px;background:#fff;border:1px solid #cfcfcf;border-radius:4px;box-sizing:border-box;"></div>
<div class="t" style="left:1120.40px;top:224.57px;font-size:10.2px;color:#222;">Stop Managing</div>
<svg class="r" style="left:1258.5px;top:226.2px" width="9" height="6"><path d="M1 1 L4.5 4.5 L8 1" stroke="#222" stroke-width="1.7" fill="none"/></svg>
<div class="r" style="left:1116.00px;top:247.90px;width:154.00px;height:1.00px;background:#dcdcdc;"></div>
<div class="t" style="left:1118.00px;top:257.67px;font-size:10.2px;color:#222;font-weight:700;">Leave Child Order On</div>
<div class="r" style="left:1116.20px;top:274.00px;width:10.50px;height:10.50px;background:#fff;border:1px solid #8a8a8a;border-radius:2px;box-sizing:border-box;"></div>
<div class="t" style="left:1133.30px;top:272.97px;font-size:10.2px;color:#444;">Pause</div>
<div class="r" style="left:1116.20px;top:291.20px;width:10.50px;height:10.50px;background:#fff;border:1px solid #8a8a8a;border-radius:2px;box-sizing:border-box;"></div>
<div class="t" style="left:1133.30px;top:289.87px;font-size:10.2px;color:#444;">Cancel</div>
<div class="r" style="left:1116.00px;top:312.70px;width:154.00px;height:1.00px;background:#dcdcdc;"></div>
<div class="t" style="left:1118.00px;top:322.47px;font-size:10.2px;color:#222;font-weight:700;">Order Tag</div>
<div class="r" style="left:1116.60px;top:335.90px;width:152.90px;height:19.70px;background:#fff;border:1px solid #cfcfcf;border-radius:4px;box-sizing:border-box;"></div>
<div class="r" style="left:1116.00px;top:363.50px;width:154.00px;height:1.00px;background:#dcdcdc;"></div>
<div class="t" style="left:1118.00px;top:374.17px;font-size:10.2px;color:#222;font-weight:700;">Clone Incoming Order</div>
<svg class="r" style="left:1115.5px;top:392.5px" width="12" height="12"><circle cx="6" cy="6" r="5.1" fill="#fff" stroke="#8a8a8a" stroke-width="0.9"/></svg>
<div class="t" style="left:1133.30px;top:391.77px;font-size:10.2px;color:#444;">True</div>
<svg class="r" style="left:1160.4px;top:392.5px" width="12" height="12"><circle cx="6" cy="6" r="5.1" fill="#fff" stroke="#2f72d6" stroke-width="1.2"/><circle cx="6" cy="6" r="3.3" fill="#2f72d6"/></svg>
<div class="t" style="left:1177.80px;top:391.77px;font-size:10.2px;color:#444;">False</div>
<div class="r" style="left:1116.00px;top:412.20px;width:154.00px;height:1.00px;background:#dcdcdc;"></div>
<div class="t" style="left:1118.00px;top:422.17px;font-size:10.2px;color:#222;font-weight:700;">Formulas</div>
<div class="r" style="left:1118.00px;top:437.30px;width:149.60px;height:19.20px;background:#fff;border:2px solid #2c5a9a;border-radius:3px;box-sizing:border-box;"></div>
<div class="t" style="left:1119.50px;top:441.82px;font-size:11.2px;color:#4a8cc4;text-decoration:underline;">ed</div>
<div class="r" style="left:1116.00px;top:467.00px;width:154.00px;height:1.00px;background:#dcdcdc;"></div>
<div class="t" style="left:1118.00px;top:477.17px;font-size:10.2px;color:#222;font-weight:700;">Order Color</div>
<div class="r" style="left:1120.40px;top:490.00px;width:139.20px;height:13.00px;border-radius:2px;background:linear-gradient(to right,#ee7a2e 0%,#f6d040 10%,#f4f44a 14%,#c8f040 24%,#60e048 31%,#58f0a0 40%,#6cf4f4 48%,#3a90e8 58%,#1020d0 66%,#2a10c8 71%,#8a20e0 79%,#e020e0 85%,#e02080 93%,#dc1c40 100%);"></div>
<svg class="r" style="left:1108px;top:488px" width="20" height="20"><defs><filter id="tsh" x="-30%" y="-30%" width="160%" height="160%"><feDropShadow dx="0" dy="1" stdDeviation="1" flood-opacity="0.35"/></filter></defs><circle cx="9" cy="8.6" r="6.6" fill="#fafafa" filter="url(#tsh)"/></svg>
<div class="r" style="left:1116.00px;top:512.00px;width:154.00px;height:1.00px;background:#dcdcdc;"></div>
<svg class="r" style="left:1130px;top:442px" width="24" height="32" viewBox="0 0 24 32">
<defs><filter id="csh" x="-30%" y="-30%" width="160%" height="160%"><feDropShadow dx="0.6" dy="1.2" stdDeviation="0.9" flood-opacity="0.4"/></filter></defs>
<path d="M3.5 3 L3.5 21.8 L8.3 17.4 L11.6 25.3 L15.2 23.8 L11.9 16.2 L18.2 16.2 Z" fill="#000" stroke="#fff" stroke-width="1.5" stroke-linejoin="round" filter="url(#csh)"/></svg>
<div class="t" style="left:1116.30px;top:536.00px;font-size:12.4px;color:#333;">Compilation Status</div>
<div class="t" style="left:1116.30px;top:559.18px;font-size:11.6px;color:#222;font-weight:700;">Client</div>
<div class="t" style="left:1116.30px;top:575.38px;font-size:11.6px;color:#444;">done</div>
<div class="t" style="left:1116.30px;top:592.48px;font-size:11.6px;color:#222;font-weight:700;">Server</div>
<div class="t" style="left:1116.30px;top:608.98px;font-size:11.6px;color:#444;">paused</div>
</body></html>
